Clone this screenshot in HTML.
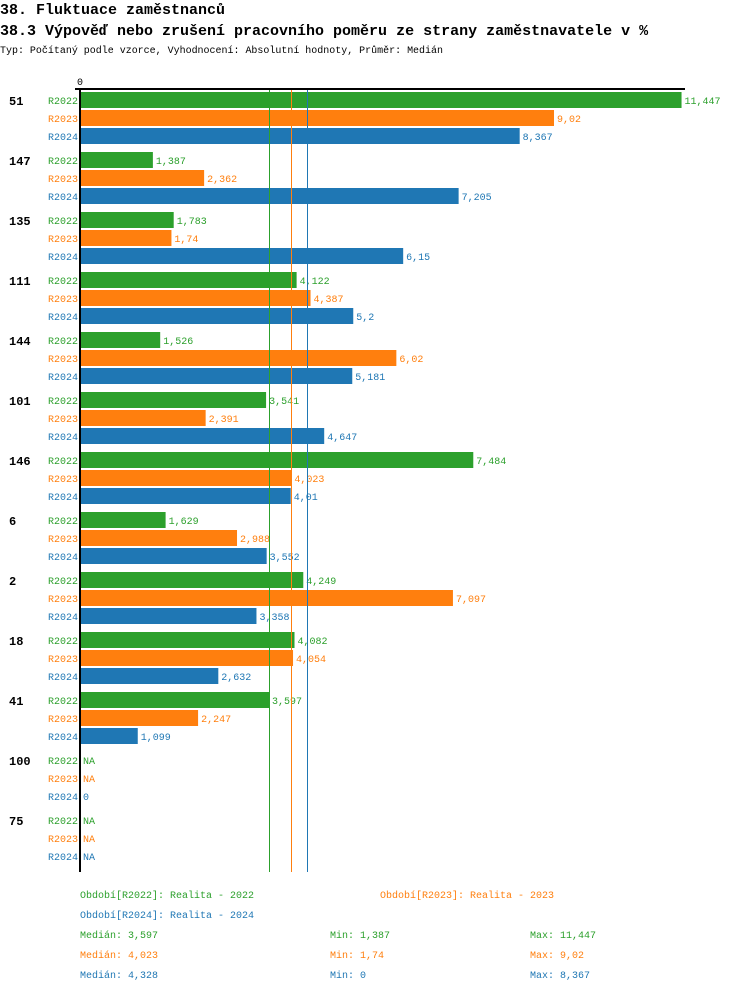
<!DOCTYPE html>
<html><head><meta charset="utf-8"><style>
body{margin:0;background:#fff;width:750px;height:992px;overflow:hidden;font-family:"Liberation Mono","DejaVu Sans Mono",monospace}
svg{position:absolute;left:0;top:0}
</style></head><body>
<svg width="750" height="992" font-family="Liberation Mono, DejaVu Sans Mono, monospace">
<text x="0" y="14" font-size="15" font-weight="bold">38. Fluktuace zaměstnanců</text>
<text x="0" y="35" font-size="15" font-weight="bold">38.3 Výpověď nebo zrušení pracovního poměru ze strany zaměstnavatele v %</text>
<text x="0" y="53" font-size="10" textLength="443" lengthAdjust="spacingAndGlyphs">Typ: Počítaný podle vzorce, Vyhodnocení: Absolutní hodnoty, Průměr: Medián</text>
<g id="plot"></g>
</svg>
<script>
const categories=["51","147","135","111","144","101","146","6","2","18","41","100","75"];
const seriesNames=["R2022","R2023","R2024"];
const colors=["#2ca02c","#ff7f0e","#1f77b4"];
const r2022=[11.447,1.387,1.783,4.122,1.526,3.541,7.484,1.629,4.249,4.082,3.597,null,null];
const r2023=[9.02,2.362,1.74,4.387,6.02,2.391,4.023,2.988,7.097,4.054,2.247,null,null];
const r2024=[8.367,7.205,6.15,5.2,5.181,4.647,4.01,3.552,3.358,2.632,1.099,0,null];
const medians=[3.597,4.023,4.328];
const mins=[1.387,1.74,0];
const maxs=[11.447,9.02,8.367];
const series=[r2022,r2023,r2024];
const NS="http://www.w3.org/2000/svg";
const g=document.getElementById('plot');
const x0=80,scale=52.55;
const xs=v=>x0+v*scale;
const gy=i=>92+i*60;
const fmt=v=>String(v).replace('.',',');
function mk(tag,attrs,txt){const e=document.createElementNS(NS,tag);for(const k in attrs)e.setAttribute(k,attrs[k]);if(txt!==undefined)e.textContent=txt;g.appendChild(e);return e;}
let t=mk('text',{x:80,y:85,'font-size':10,'text-anchor':'middle'},'0');


categories.forEach((c,i)=>{
  let l=mk('text',{x:9,y:gy(i)+13,'font-size':12,'font-weight':'bold'},c);
  
  
  series.forEach((s,j)=>{
    const y=gy(i)+j*18, v=s[i];
    let sl=mk('text',{x:78,y:y+12,'font-size':10,'text-anchor':'end',fill:colors[j]},seriesNames[j]);
    
    
    if(v!==null && v>0){
      let r=mk('rect',{x:x0,y:y,width:xs(v)-x0,height:16,fill:colors[j]});
      
      
    }
    let vl=mk('text',{x:(v===null?x0:xs(v))+3,y:y+12,'font-size':10,fill:colors[j]},v===null?'NA':fmt(v));
    
    
  });
});
medians.forEach((m,j)=>{
  const x=Math.round(xs(m));
  let ln=mk('rect',{x:x,y:88,width:1,height:784,fill:colors[j]});
  
  
});
let ax=mk('rect',{x:79,y:88,width:2,height:784,fill:'#000'});


let ax2=mk('rect',{x:75,y:88,width:610,height:2,fill:'#000'});


const legendPos=[[80,898],[380,898],[80,918]];
const legendText=["Období[R2022]: Realita - 2022","Období[R2023]: Realita - 2023","Období[R2024]: Realita - 2024"];
legendText.forEach((s,j)=>{
  let e=mk('text',{x:legendPos[j][0],y:legendPos[j][1],'font-size':10,fill:colors[j]},s);
  
  
});
colors.forEach((c,j)=>{
  const y=938+j*20;
  let a=mk('text',{x:80,y:y,'font-size':10,fill:c},'Medián: '+fmt(medians[j]));
  
  
  let b=mk('text',{x:330,y:y,'font-size':10,fill:c},'Min: '+fmt(mins[j]));
  
  
  let d=mk('text',{x:530,y:y,'font-size':10,fill:c},'Max: '+fmt(maxs[j]));
  
  
});
</script>
</body></html>
